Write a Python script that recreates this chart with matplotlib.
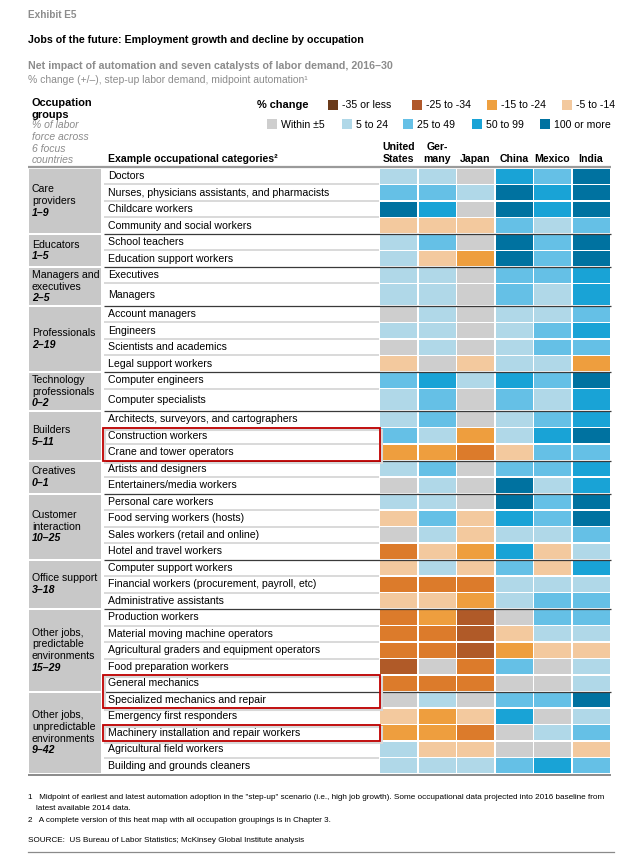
import matplotlib
matplotlib.use("Agg")
import matplotlib.pyplot as plt
from matplotlib.patches import Rectangle

plt.rcParams['font.family'] = ['Liberation Sans', 'DejaVu Sans']

# ---- data -----------------------------------------------------------------
countries = ["United\nStates", "Ger-\nmany", "Japan", "China", "Mexico", "India"]

group_names = ["Care\nproviders", "Educators", "Managers and\nexecutives", "Professionals",
               "Technology\nprofessionals", "Builders", "Creatives", "Customer\ninteraction",
               "Office support", "Other jobs,\npredictable\nenvironments",
               "Other jobs,\nunpredictable\nenvironments"]
group_shares = ["1–9", "1–5", "2–5", "2–19", "0–2", "5–11", "0–1", "10–25", "3–18",
                "15–29", "9–42"]
group_sizes = [4, 2, 2, 4, 2, 3, 2, 4, 3, 5, 5]

categories = [
    "Doctors", "Nurses, physicians assistants, and pharmacists", "Childcare workers",
    "Community and social workers",
    "School teachers", "Education support workers",
    "Executives", "Managers",
    "Account managers", "Engineers", "Scientists and academics", "Legal support workers",
    "Computer engineers", "Computer specialists",
    "Architects, surveyors, and cartographers", "Construction workers",
    "Crane and tower operators",
    "Artists and designers", "Entertainers/media workers",
    "Personal care workers", "Food serving workers (hosts)", "Sales workers (retail and online)",
    "Hotel and travel workers",
    "Computer support workers", "Financial workers (procurement, payroll, etc)",
    "Administrative assistants",
    "Production workers", "Material moving machine operators",
    "Agricultural graders and equipment operators", "Food preparation workers",
    "General mechanics",
    "Specialized mechanics and repair", "Emergency first responders",
    "Machinery installation and repair workers", "Agricultural field workers",
    "Building and grounds cleaners",
]
tall_rows = ["Managers", "Computer specialists"]
highlighted = [["Construction workers", "Crane and tower operators"],
               ["General mechanics", "Specialized mechanics and repair"],
               ["Machinery installation and repair workers"]]

# change class per cell: -4 .. 4 (brown .. dark blue), 0 = within +/-5
us = [1, 2, 4, -1, 1, 1, 1, 1, 0, 1, 0, -1, 2, 1, 1, 2, -2, 1, 0, 1,
      -1, 0, -3, -1, -3, -1, -3, -3, -3, -4, -3, 0, -1, -2, 1, 1]
germany = [1, 2, 3, -1, 2, -1, 1, 1, 1, 1, 1, 0, 3, 2, 2, 1, -2, 2, 1, 1,
           2, 1, -1, 1, -3, -1, -2, -3, -3, 0, -3, 1, -2, -2, -1, 1]
japan = [0, 1, 0, -1, 0, -2, 0, 0, 0, 0, 0, -1, 1, 0, 0, -2, -3, 0, 0, 0,
         -1, -1, -2, -1, -3, -2, -4, -4, -4, -3, -3, 0, -1, -3, -1, 1]
china = [3, 4, 4, 2, 4, 4, 2, 2, 1, 1, 1, 1, 3, 2, 1, 1, -1, 2, 4, 4,
         3, 1, 3, 2, 1, 1, 0, -1, -2, 2, 0, 2, 3, 0, 0, 2]
mexico = [2, 3, 3, 1, 2, 2, 2, 1, 1, 2, 2, 1, 2, 1, 2, 3, 2, 2, 1, 2,
          2, 1, -1, -1, 1, 2, 2, 1, -1, 0, 0, 2, 0, 1, 0, 3]
india = [4, 4, 4, 2, 4, 4, 3, 3, 2, 3, 2, -2, 4, 3, 3, 4, 2, 3, 3, 4,
         4, 2, 1, 3, 1, 2, 2, 1, -1, 1, 1, 4, 1, 2, -1, 2]
values = [us, germany, japan, china, mexico, india]

legend_labels = ["-35 or less", "-25 to -34", "-15 to -24", "-5 to -14",
                 "Within ±5", "5 to 24", "25 to 49", "50 to 99", "100 or more"]

# ---- styles ---------------------------------------------------------------
cell_colors = {-4: "#B05A28", -3: "#DC7B2B", -2: "#EE9E3E", -1: "#F3C99E", 0: "#CECECE",
               1: "#B0D8E8", 2: "#65C0E6", 3: "#19A3D6", 4: "#0072A0"}
legend_colors = ["#6A3A1A", "#B0582A", "#EEA040", "#F3C99E", "#CECECE",
                 "#B0D8E8", "#65C0E6", "#19A3D6", "#0072A0"]
GRAY_TXT = "#8C8C8C"
GROUP_BG = "#C8C8C8"
FS = 7.6  # body text size

fig = plt.figure(figsize=(6.24, 8.55), dpi=100)
ax = fig.add_axes([0, 0, 1, 1])
ax.set_xlim(0, 624)
ax.set_ylim(855, 0)
ax.axis("off")

# ---- header texts -----------------------------------------------------------
ax.text(28, 15, "Exhibit E5", fontsize=7.2, fontweight="bold", color=GRAY_TXT, va="center")
ax.text(28, 40, "Jobs of the future: Employment growth and decline by occupation",
        fontsize=7.7, fontweight="bold", va="center")
ax.text(28, 66, "Net impact of automation and seven catalysts of labor demand, 2016–30",
        fontsize=7.7, fontweight="bold", color=GRAY_TXT, va="center")
ax.text(28, 80, "% change (+/–), step-up labor demand, midpoint automation¹",
        fontsize=7.5, color=GRAY_TXT, va="center")

ax.text(32, 103, "Occupation", fontsize=7.9, fontweight="bold", va="center")
ax.text(32, 114.5, "groups", fontsize=7.9, fontweight="bold", va="center")
for i, s in enumerate(["% of labor", "force across", "6 focus", "countries"]):
    ax.text(32, 125.5 + i * 11.5, s, fontsize=7.5, style="italic", color=GRAY_TXT, va="center")

ax.text(108, 159.5, "Example occupational categories²", fontsize=FS, fontweight="bold",
        va="center")

# legend
ax.text(257, 105, "% change", fontsize=7.9, fontweight="bold", va="center")
leg_pos = [(328, 105), (412, 105), (487, 105), (562, 105),
           (267, 124.5), (342, 124.5), (403, 124.5), (472, 124.5), (540, 124.5)]
for (lx, ly), c, lab in zip(leg_pos, legend_colors, legend_labels):
    ax.add_patch(Rectangle((lx, ly - 5), 10, 10, facecolor=c, edgecolor="none"))
    ax.text(lx + 14, ly, lab, fontsize=FS, va="center")

# ---- grid geometry ----------------------------------------------------------
Y0 = 168.0
ROW_H = 16.5
TALL_EXTRA = 6.0
COL_X0 = 380.0
COL_STEP = 38.5
CELL_W = 37.0
RIGHT = COL_X0 + len(countries) * COL_STEP

row_top = []
y = Y0
for cat in categories:
    row_top.append(y)
    y += ROW_H + (TALL_EXTRA if cat in tall_rows else 0)
row_bot = row_top[1:] + [y]
GRID_BOTTOM = y

for j, name in enumerate(countries):
    cx = COL_X0 + j * COL_STEP + CELL_W / 2
    if "\n" in name:
        a, b = name.split("\n")
        ax.text(cx, 147.5, a, fontsize=FS, fontweight="bold", ha="center", va="center")
        ax.text(cx, 159.5, b, fontsize=FS, fontweight="bold", ha="center", va="center")
    else:
        ax.text(cx, 159.5, name, fontsize=FS, fontweight="bold", ha="center", va="center")

# header rule
ax.plot([28, RIGHT], [167, 167], color="#9A9A9A", lw=1.6, solid_capstyle="butt")

# cells and category labels
for i, cat in enumerate(categories):
    t, b = row_top[i], row_bot[i]
    ax.text(108, (t + b) / 2, cat, fontsize=FS, va="center")
    for j, col in enumerate(values):
        ax.add_patch(Rectangle((COL_X0 + j * COL_STEP, t + 0.8), CELL_W, b - t - 1.6,
                               facecolor=cell_colors[col[i]], edgecolor="none"))

# groups: gray boxes, labels, separators
start = 0
for g, size in enumerate(group_sizes):
    t, b = row_top[start], row_bot[start + size - 1]
    ax.add_patch(Rectangle((29, t + 1), 72, b - t - 2, facecolor=GROUP_BG, edgecolor="none"))
    lines = group_names[g].split("\n")
    n = len(lines) + 1
    sp = 11.7
    first = (t + b) / 2 - (n - 1) / 2 * sp
    for k, s in enumerate(lines):
        ax.text(32, first + k * sp, s, fontsize=FS, va="center")
    ax.text(32, first + len(lines) * sp, group_shares[g], fontsize=FS, style="italic",
            fontweight="bold", va="center")
    for r in range(start, start + size - 1):
        ax.plot([104, 379], [row_bot[r], row_bot[r]], color="#D9D9D9", lw=1.4,
                solid_capstyle="butt")
    if g < len(group_sizes) - 1:
        ax.plot([104, RIGHT], [b, b], color="#3A3A3A", lw=0.9, solid_capstyle="butt",
                zorder=5)
    start += size

ax.plot([28, RIGHT], [GRID_BOTTOM + 0.5, GRID_BOTTOM + 0.5], color="#8A8A8A", lw=1.4,
        solid_capstyle="butt")

# red highlight boxes
for rows in highlighted:
    i0, i1 = categories.index(rows[0]), categories.index(rows[-1])
    t, b = row_top[i0], row_bot[i1]
    ax.add_patch(Rectangle((105, t + 2), 277, b - t, facecolor="none", edgecolor="#D8D8D8",
                           lw=1.5, zorder=5))
    ax.add_patch(Rectangle((103, t), 277, b - t, facecolor="none", edgecolor="#C00000",
                           lw=1.3, zorder=6))

# ---- footnotes --------------------------------------------------------------
fn = 5.9
ax.text(28, 797, "1   Midpoint of earliest and latest automation adoption in the \"step-up\" "
        "scenario (i.e., high job growth). Some occupational data projected into 2016 baseline from",
        fontsize=fn, va="center")
ax.text(36, 808, "latest available 2014 data.", fontsize=fn, va="center")
ax.text(28, 820, "2   A complete version of this heat map with all occupation groupings is in Chapter 3.",
        fontsize=fn, va="center")
ax.text(28, 840, "SOURCE:  US Bureau of Labor Statistics; McKinsey Global Institute analysis",
        fontsize=fn, va="center")
ax.plot([28, 614], [852, 852], color="#8A8A8A", lw=0.9)

fig.savefig("out.png", dpi=100)
